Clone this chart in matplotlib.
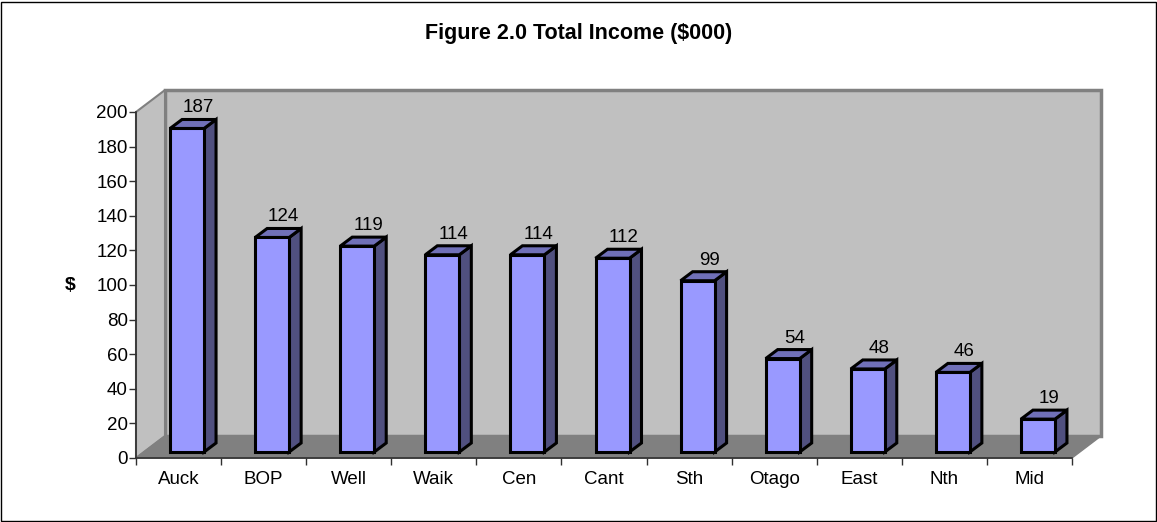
import matplotlib
matplotlib.use('Agg')
import matplotlib.pyplot as plt
from matplotlib.patches import Polygon, Rectangle

categories = ['Auck', 'BOP', 'Well', 'Waik', 'Cen', 'Cant', 'Sth', 'Otago', 'East', 'Nth', 'Mid']
income = [187, 124, 119, 114, 114, 112, 99, 54, 48, 46, 19]
y_ticks = [0, 20, 40, 60, 80, 100, 120, 140, 160, 180, 200]

W, H = 1157, 522
plt.rcParams['font.family'] = ['Liberation Sans', 'DejaVu Sans']

fig = plt.figure(figsize=(W / 100, H / 100), dpi=100)
# axes box is the front plane of the fake 3d chart
left, right, top, bottom = 136, 1072, 112, 458
ax = fig.add_axes([left / W, 1 - bottom / H, (right - left) / W, (bottom - top) / H])
ax.set_xlim(0, len(categories))
ax.set_ylim(0, 200)
ax.patch.set_visible(False)

# pixel sizes turned into data units
px_x = len(categories) / (right - left)
px_y = 200 / (bottom - top)
dx, dy = 29 * px_x, 22 * px_y
n = len(categories)

# walls and floor
wall_edge = '#808080'
ax.add_patch(Polygon([(dx, dy), (n + dx, dy), (n + dx, 200 + dy), (dx, 200 + dy)], fc='#c0c0c0', ec=wall_edge, lw=2.5, clip_on=False, joinstyle='miter', zorder=1))
ax.add_patch(Polygon([(0, 0), (dx, dy), (dx, 200 + dy), (0, 200)], fc='#c0c0c0', ec=wall_edge, lw=1.5, clip_on=False, zorder=1.1))
ax.add_patch(Polygon([(0, 0), (n, 0), (n + dx, dy), (dx, dy)], fc='#808080', ec=wall_edge, lw=1, clip_on=False, zorder=1.2))

# bars
bar_w = 34 * px_x
bar_dx, bar_dy = 12 * px_x, 9 * px_y
off_x, off_y = 8.5 * px_x, 6 * px_y
for i, v in enumerate(income):
    x0 = i + 0.5 + off_x - bar_w / 2
    x1 = x0 + bar_w
    y0 = off_y
    y1 = off_y + v
    kw = dict(ec='black', lw=2.2, clip_on=False, joinstyle='miter', zorder=3)
    ax.add_patch(Polygon([(x1, y0), (x1 + bar_dx, y0 + bar_dy), (x1 + bar_dx, y1 + bar_dy), (x1, y1)], fc='#50507f', **kw))
    ax.add_patch(Polygon([(x0, y1), (x1, y1), (x1 + bar_dx, y1 + bar_dy), (x0 + bar_dx, y1 + bar_dy)], fc='#7070b8', **kw))
    ax.add_patch(Rectangle((x0, y0), bar_w, v, fc='#9999ff', **kw))
    ax.text(i + 0.5 + 20 * px_x, y1 + bar_dy + 3 * px_y, str(v), ha='center', va='bottom', fontsize=13.5, color='black', zorder=4, clip_on=False)

for s in ['top', 'right']:
    ax.spines[s].set_visible(False)
for s in ['left', 'bottom']:
    ax.spines[s].set_color('#303030')
    ax.spines[s].set_linewidth(1.2)
    ax.spines[s].set_zorder(2)
ax.set_xticks(range(n + 1))
ax.set_xticklabels([])
ax.set_xticks([i + 0.5 for i in range(n)], categories, minor=True)
ax.set_yticks(y_ticks)
ax.tick_params(axis='x', which='major', length=5, width=1, color='#303030')
ax.tick_params(axis='x', which='minor', length=0, pad=9, labelsize=13.5)
ax.tick_params(axis='y', length=5, width=1, color='#303030', pad=1, labelsize=13.5)

fig.text(70 / W, 1 - 285 / H, '$', fontsize=14, fontweight='bold', ha='center', va='center')
fig.text(579 / W, 1 - 33 / H, 'Figure 2.0 Total Income ($000)', fontsize=15.5, fontweight='bold', ha='center', va='center')

# outer frame
fig.add_artist(Rectangle((0.5 / W, 1.5 / H), (W - 2) / W, (H - 3) / H, transform=fig.transFigure, fill=False, ec='black', lw=1))

fig.savefig('out.png', dpi=100)
